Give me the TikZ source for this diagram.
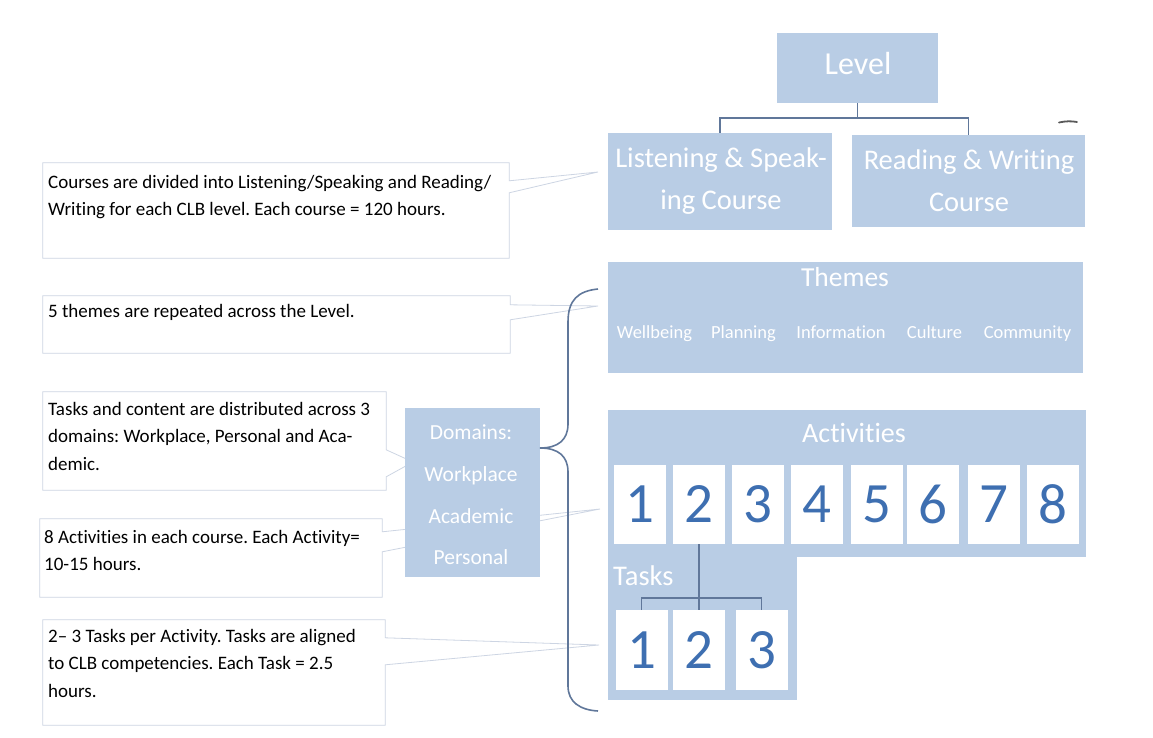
\documentclass[tikz,border=0pt]{standalone}
\usepackage{fontspec}
\setmainfont[Ligatures={TeX,NoCommon}]{Carlito}
\usetikzlibrary{calc}
\definecolor{boxblue}{HTML}{B9CDE5}
\definecolor{numblue}{HTML}{3E6FB1}
\definecolor{linkc}{HTML}{60779A}
\definecolor{callb}{HTML}{CDD5E3}
\frenchspacing
\begin{document}
\begin{tikzpicture}[x=1pt,y=-1pt,
  bbox/.style={fill=boxblue, draw=none, inner sep=0pt},
  wtext/.style={text=white, inner sep=0pt, align=center},
  numbox/.style={fill=white, draw=none, minimum width=52pt, minimum height=79pt, inner sep=0pt,
    text=numblue, font=\fontsize{57}{57}\selectfont},
  frame/.style={draw=none, fill=white, inner sep=0pt},
  ctext/.style={anchor=north west, inner sep=0pt, align=left, text=black,
    font=\fontsize{19}{27.5}\selectfont},
  calloutline/.style={draw=callb, line width=0.8pt, fill=white},
  link/.style={draw=linkc, line width=1.6pt},
]
\useasboundingbox (0,0) rectangle (1153,738);

% ---------- callouts (drawn first, behind boxes) ----------
\node[frame, minimum width=466pt, minimum height=95pt] (c1) at (276,210.5) {};
\coordinate (p1) at (598,172);
\path[calloutline] (c1.north west) -- (c1.north east) -- ($(c1.north east)+(0,18)$) -- (p1)
  -- ($(c1.north east)+(0,30)$) -- (c1.south east) -- (c1.south west) -- cycle;
\node[ctext] (c1t) at (48,175) {Courses are divided into Listening/Speaking and Reading/\\Writing for each CLB level. Each course = 120 hours.};

\node[frame, minimum width=467pt, minimum height=57pt] (c2) at (276.5,324.5) {};
\coordinate (p2) at (598,306);
\path[calloutline] (c2.north west) -- (c2.north east) -- ($(c2.north east)+(0,9)$) -- (p2)
  -- ($(c2.north east)+(0,24)$) -- (c2.south east) -- (c2.south west) -- cycle;
\node[ctext] (c2t) at (48,304) {5 themes are repeated across the Level.};

\node[frame, minimum width=343pt, minimum height=98pt] (c3) at (214.5,441) {};
\coordinate (p3) at (413,462);
\path[calloutline] (c3.north west) -- (c3.north east) -- ($(c3.north east)+(0,58)$) -- (p3)
  -- ($(c3.north east)+(0,85)$) -- (c3.south east) -- (c3.south west) -- cycle;
\node[ctext] (c3t) at (48,402) {Tasks and content are distributed across 3\\domains: Workplace, Personal and Aca-\\demic.};

\node[frame, minimum width=342pt, minimum height=78pt] (c4) at (211,558) {};
\coordinate (p4) at (600,509);
\path[calloutline] (c4.north west) -- (c4.north east) -- ($(c4.north east)+(0,13)$) -- (p4)
  -- ($(c4.north east)+(0,33)$) -- (c4.south east) -- (c4.south west) -- cycle;
\node[ctext] (c4t) at (44,530) {8 Activities in each course. Each Activity=\\10-15 hours.};

\node[frame, minimum width=342pt, minimum height=105pt] (c5) at (214,672.5) {};
\coordinate (p5) at (599,645);
\path[calloutline] (c5.north west) -- (c5.north east) -- ($(c5.north east)+(0,18)$) -- (p5)
  -- ($(c5.north east)+(0,45)$) -- (c5.south east) -- (c5.south west) -- cycle;
\node[ctext] (c5t) at (48,629) {2– 3 Tasks per Activity. Tasks are aligned\\to CLB competencies. Each Task = 2.5\\hours.};

% ---------- level and courses ----------
\node[bbox, minimum width=161pt, minimum height=70pt] (level) at (857.5,68) {};
\node[wtext, font=\fontsize{32}{32}\selectfont] (levelt) at (858,64) {Level};
\node[bbox, minimum width=224pt, minimum height=97pt] (ls) at (720,181.5) {};
\node[wtext, font=\fontsize{28.5}{42}\selectfont] (lst) at (721,181) {Listening \& Speak-\\ing Course};
\node[bbox, minimum width=233pt, minimum height=92pt] (rw) at (968.5,181) {};
\node[wtext, font=\fontsize{28.5}{42}\selectfont] (rwt) at (969,181) {Reading \& Writing\\Course};
\coordinate (lj) at (857.5,118);
\draw[link] (level.south) -- (lj);
\draw[link] (ls.north) |- (lj) -| (rw.north);
\draw[line width=1.8pt, draw=black!65, line cap=round] (1059,122.5) .. controls (1066,121) and (1071,121) .. (1077,122);

% ---------- themes ----------
\node[bbox, minimum width=475pt, minimum height=111pt] (themes) at (845.5,317.5) {};
\node[wtext, font=\fontsize{27.5}{27.5}\selectfont] (themest) at (845,277) {Themes};
\foreach \n/\x/\w in {th1/654.5/Wellbeing, th2/743.5/Planning, th3/841/Information, th4/934.5/Culture, th5/1027.5/Community}
  \node[wtext, anchor=base, font=\fontsize{18.5}{18.5}\selectfont] (\n) at (\x,338) {\w};

% ---------- activities and tasks ----------
\node[bbox, minimum width=478pt, minimum height=147pt] (act) at (847,483.5) {};
\node[bbox, minimum width=189pt, minimum height=146pt] (tk) at (702.5,627) {};
\node[wtext, font=\fontsize{28}{28}\selectfont] (actt) at (854,433) {Activities};
\node[wtext, anchor=west, font=\fontsize{28.5}{28.5}\selectfont] (tkt) at (613,576) {Tasks};
\foreach \i/\x in {1/640,2/699,3/758,4/817,5/877,6/933,7/993.5,8/1053}
  \node[numbox] (a\i) at (\x,504.5) {\i};
\foreach \i/\x in {1/641.5,2/699,3/761.5}
  \node[numbox, minimum height=80pt] (t\i) at (\x,650) {\i};
\coordinate (tj) at (699,598);
\draw[link] (a2.south) -- (tj);
\draw[link] (t1.north) |- (tj) -| (t3.north);
\draw[link] (tj) -- (t2.north);

% ---------- domains and brace ----------
\node[bbox, minimum width=135pt, minimum height=169pt] (dom) at (472.5,492.5) {};
\node[wtext, font=\fontsize{21.5}{41.7}\selectfont] (domt) at (471,495) {Domains:\\Workplace\\Academic\\Personal};
\coordinate (btip) at (540,448);
\draw[link] (598,289) .. controls (578,291) and (568,300) .. (568,322) -- (568,424)
  .. controls (568,440) and (558,448) .. (btip)
  .. controls (558,448) and (568,456) .. (568,472) -- (568,686)
  .. controls (568,702) and (580,710) .. (598,711);
\end{tikzpicture}
\end{document}
